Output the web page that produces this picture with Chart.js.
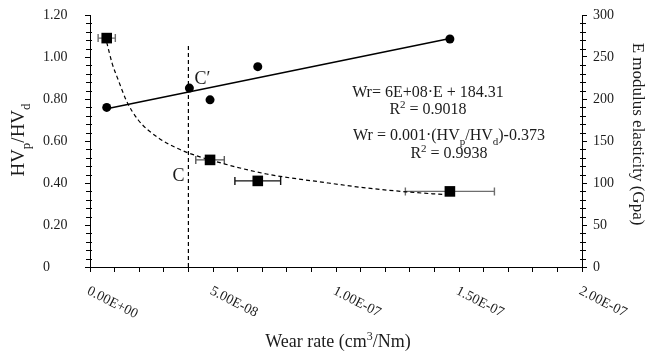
<!DOCTYPE html>
<html>
<head>
<meta charset="utf-8">
<script src="https://cdn.jsdelivr.net/npm/chart.js@4/dist/chart.umd.min.js"></script>
<style>
  html, body { margin: 0; padding: 0; background: #fff; }
  canvas { display: block; }
</style>
</head>
<body>
<canvas id="chart" width="651" height="354"></canvas>
<script>
// Hardness ratio samples: wear rate (cm³/Nm) with horizontal error, HVp/HVd
const wearRate = [6.8e-9, 4.88e-8, 6.82e-8, 1.463e-7];
const wearRateErr = [3.5e-9, 5.8e-9, 9.3e-9, 1.81e-8];
const hvRatio = [1.09, 0.51, 0.41, 0.36];

// Elastic modulus samples (GPa) against wear rate; C′ sits on the C line
const modulusWear = [6.8e-9, 4.04e-8, 4.88e-8, 6.82e-8, 1.463e-7];
const modulusGpa = [190, 213, 199, 238.5, 271.4];

// Linear fit of modulus vs wear rate (Wr= 6E+08·E + 184.31)
const linSlope = 6e8;
const linIntercept = 184.31;
const linRange = [6.8e-9, 1.463e-7];

// Power-law fit of the hardness ratio
const powerFitX = [6.8e-9, 9.0e-9, 1.15e-8, 1.49e-8, 1.96e-8, 2.78e-8, 3.59e-8, 4.0e-8, 5.49e-8, 7.18e-8, 9.69e-8, 1.111e-7, 1.285e-7, 1.463e-7];
const powerFitY = [1.07, 0.97, 0.89, 0.79, 0.70, 0.615, 0.563, 0.543, 0.49, 0.443, 0.40, 0.378, 0.358, 0.343];

// Critical wear rate marker C
const cWear = 4.0e-8;
const cLineTop = 1.065;

// Axis ticks
const xTickValues = [0, 5e-8, 1e-7, 1.5e-7, 2e-7];
const xTickLabels = ['0.00E+00', '5.00E-08', '1.00E-07', '1.50E-07', '2.00E-07'];

const FONT = '"Liberation Serif", "Times New Roman", serif';
const INK = '#1b1b1b';

Chart.defaults.font.family = FONT;
Chart.defaults.color = INK;

function partFont(p, size) {
  const s = (p.sub || p.sup) ? Math.round(size * 0.68) : size;
  return s + 'px ' + FONT;
}
function richWidth(ctx, parts, size) {
  let w = 0;
  for (const p of parts) { ctx.font = partFont(p, size); w += ctx.measureText(p.t).width; }
  return w;
}
// Draws mixed normal / subscript / superscript text centred on (x, y)
function drawRich(ctx, parts, x, y, size) {
  const w = richWidth(ctx, parts, size);
  let cx = x - w / 2;
  const base = y + size * 0.33;
  ctx.textAlign = 'left';
  ctx.textBaseline = 'alphabetic';
  for (const p of parts) {
    ctx.font = partFont(p, size);
    const dy = p.sub ? size * 0.28 : (p.sup ? -size * 0.38 : 0);
    ctx.fillText(p.t, cx, base + dy);
    cx += ctx.measureText(p.t).width;
  }
}

const decorations = {
  id: 'decorations',
  beforeDatasetsDraw(chart) {
    const ctx = chart.ctx;
    const xs = chart.scales.x, ys = chart.scales.y;
    const barColors = ['#6e6e6e', '#5a5a5a', '#111111', '#6e6e6e'];
    ctx.save();
    ctx.lineWidth = 1.4;
    for (let i = 0; i < wearRate.length; i++) {
      const y = ys.getPixelForValue(hvRatio[i]);
      const x0 = xs.getPixelForValue(wearRate[i] - wearRateErr[i]);
      const x1 = xs.getPixelForValue(wearRate[i] + wearRateErr[i]);
      ctx.strokeStyle = barColors[i];
      ctx.beginPath();
      ctx.moveTo(x0, y); ctx.lineTo(x1, y);
      ctx.moveTo(x0, y - 4); ctx.lineTo(x0, y + 4);
      ctx.moveTo(x1, y - 4); ctx.lineTo(x1, y + 4);
      ctx.stroke();
    }
    ctx.restore();
  },
  afterDraw(chart) {
    const ctx = chart.ctx;
    const area = chart.chartArea;
    const xs = chart.scales.x, ys = chart.scales.y, y1 = chart.scales.y1;
    ctx.save();

    // minor ticks on both value axes
    ctx.strokeStyle = '#000';
    ctx.lineWidth = 1;
    ctx.beginPath();
    for (let k = 1; k < 30; k++) {
      if (k % 5 === 0) continue;
      const py = Math.round(ys.getPixelForValue(k * 0.04)) + 0.5;
      ctx.moveTo(area.left - 4, py); ctx.lineTo(area.left + 2, py);
    }
    for (let k = 1; k < 30; k++) {
      if (k % 5 === 0) continue;
      const py = Math.round(y1.getPixelForValue(k * 10)) + 0.5;
      ctx.moveTo(area.right - 2, py); ctx.lineTo(area.right + 4, py);
    }
    ctx.stroke();

    ctx.fillStyle = INK;

    // slanted wear-rate tick labels
    ctx.font = '14px ' + FONT;
    for (let i = 0; i < xTickValues.length; i++) {
      const px = xs.getPixelForValue(xTickValues[i]);
      ctx.save();
      ctx.translate(px + 1, area.bottom + 17);
      ctx.rotate(27 * Math.PI / 180);
      ctx.textAlign = 'left';
      ctx.textBaseline = 'top';
      ctx.fillText(xTickLabels[i], 0, 0);
      ctx.restore();
    }

    // axis titles
    drawRich(ctx, [{t: 'Wear rate (cm'}, {t: '3', sup: true}, {t: '/Nm)'}], 338, 341, 18);

    ctx.save();
    ctx.translate(18, 140);
    ctx.rotate(-Math.PI / 2);
    drawRich(ctx, [{t: 'HV'}, {t: 'p', sub: true}, {t: '/HV'}, {t: 'd', sub: true}], 0, 0, 19);
    ctx.restore();

    ctx.save();
    ctx.translate(639, 134);
    ctx.rotate(Math.PI / 2);
    drawRich(ctx, [{t: 'E modulus elasticity (Gpa)'}], 0, 0, 17);
    ctx.restore();

    // fit equations
    drawRich(ctx, [{t: 'Wr= 6E+08·E + 184.31'}], 428, 92, 16);
    drawRich(ctx, [{t: 'R'}, {t: '2', sup: true}, {t: ' = 0.9018'}], 428, 109, 16);
    drawRich(ctx, [{t: 'Wr = 0.001·(HV'}, {t: 'p', sub: true}, {t: '/HV'}, {t: 'd', sub: true}, {t: ')-0.373'}], 449, 135, 16);
    drawRich(ctx, [{t: 'R'}, {t: '2', sup: true}, {t: ' = 0.9938'}], 449, 153, 16);

    // C and C′ markers
    const cx = xs.getPixelForValue(cWear);
    drawRich(ctx, [{t: 'C\u2032'}], cx + 14, y1.getPixelForValue(modulusGpa[1]) - 10, 18);
    drawRich(ctx, [{t: 'C'}], cx - 10, ys.getPixelForValue(0.44), 18);

    ctx.restore();
  }
};

const squares = wearRate.map((x, i) => ({x, y: hvRatio[i]}));
const circles = modulusWear.map((x, i) => ({x, y: modulusGpa[i]}));
const linearFit = linRange.map(x => ({x, y: linIntercept + linSlope * x}));
const powerFit = powerFitX.map((x, i) => ({x, y: powerFitY[i]}));
const cLine = [{x: cWear, y: 0}, {x: cWear, y: cLineTop}];

new Chart(document.getElementById('chart'), {
  type: 'scatter',
  data: {
    datasets: [
      { label: 'HVp/HVd', data: squares, yAxisID: 'y', pointStyle: 'rect', pointRadius: 7.5,
        backgroundColor: '#000', borderColor: '#000', borderWidth: 0 },
      { label: 'E modulus', data: circles, yAxisID: 'y1', pointStyle: 'circle', pointRadius: 4.5,
        backgroundColor: '#000', borderColor: '#000', borderWidth: 0 },
      { label: 'Linear fit', type: 'line', data: linearFit, yAxisID: 'y1', borderColor: '#000',
        borderWidth: 1.5, pointRadius: 0, fill: false, tension: 0 },
      { label: 'Power fit', type: 'line', data: powerFit, yAxisID: 'y', borderColor: '#000',
        borderWidth: 1.2, borderDash: [4, 3], pointRadius: 0, fill: false, cubicInterpolationMode: 'monotone' },
      { label: 'C', type: 'line', data: cLine, yAxisID: 'y', borderColor: '#000',
        borderWidth: 1.2, borderDash: [4, 3], pointRadius: 0, fill: false }
    ]
  },
  options: {
    responsive: false,
    animation: false,
    devicePixelRatio: 1,
    layout: { padding: { left: 43, top: 15, right: 0, bottom: 0 } },
    plugins: { legend: { display: false }, tooltip: { enabled: false } },
    scales: {
      x: {
        type: 'linear', position: 'bottom', min: 0, max: 2e-7,
        afterFit: s => { s.height = 87; },
        ticks: { display: false, stepSize: 1e-8, maxTicksLimit: 30 },
        grid: { drawOnChartArea: false, drawTicks: true, tickLength: 5, tickColor: '#000', tickWidth: 1 },
        border: { display: true, color: '#000', width: 1 }
      },
      y: {
        type: 'linear', position: 'left', min: 0, max: 1.2,
        afterFit: s => { s.width = 47; },
        ticks: { stepSize: 0.2, crossAlign: 'far', font: { size: 14 }, color: INK,
          callback: v => (Math.abs(v) < 1e-9 ? '0' : Number(v).toFixed(2)) },
        grid: { drawOnChartArea: false, drawTicks: true, tickLength: 5, tickColor: '#000' },
        border: { display: true, color: '#000', width: 1 }
      },
      y1: {
        type: 'linear', position: 'right', min: 0, max: 300,
        afterFit: s => { s.width = 69; },
        ticks: { stepSize: 50, padding: 6, font: { size: 14 }, color: INK },
        grid: { drawOnChartArea: false, drawTicks: true, tickLength: 5, tickColor: '#000' },
        border: { display: true, color: '#000', width: 1 }
      }
    }
  },
  plugins: [decorations]
});
</script>
</body>
</html>
